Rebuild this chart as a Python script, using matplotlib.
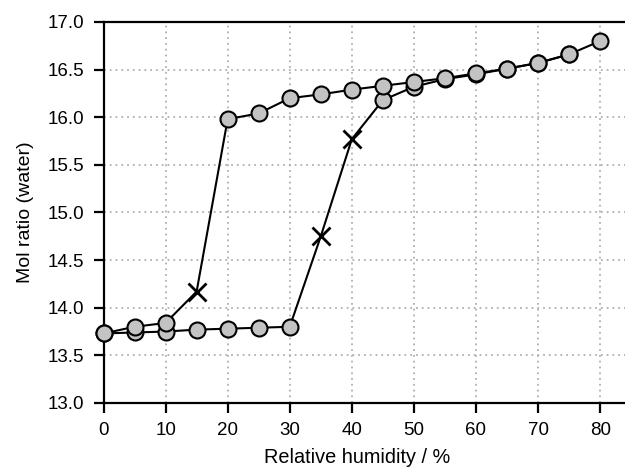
import matplotlib.pyplot as plt

plt.rcParams["font.family"] = ["Liberation Sans", "DejaVu Sans"]

# relative humidity steps (%)
rh = [0, 5, 10, 15, 20, 25, 30, 35, 40, 45, 50, 55, 60, 65, 70, 75, 80]

# adsorption branch (humidity going up)
ads = [13.73, 13.74, 13.75, 13.77, 13.78, 13.79, 13.80, 14.75, 15.77,
       16.18, 16.32, 16.40, 16.45, 16.51, 16.57, 16.66, 16.80]
ads_cross = [35, 40]

# desorption branch (humidity going down)
rh_des = [75, 70, 65, 60, 55, 50, 45, 40, 35, 30, 25, 20, 15, 10, 5, 0]
des = [16.66, 16.57, 16.51, 16.46, 16.41, 16.37, 16.33, 16.29, 16.24,
       16.20, 16.04, 15.98, 14.17, 13.84, 13.80, 13.73]
des_cross = [15]

fig = plt.figure(figsize=(6.25, 4.7), dpi=100)
ax = fig.add_axes([0.1656, 0.1426, 0.8344, 0.8106])

circle_kw = dict(linestyle="none", marker="o", markersize=11.5,
                 markerfacecolor="#c3c3c3", markeredgecolor="black",
                 markeredgewidth=1.5, clip_on=False, zorder=4)
cross_kw = dict(linestyle="none", marker="x", markersize=13,
                markeredgecolor="black", markeredgewidth=2.0,
                clip_on=False, zorder=4)

for xs, ys, crosses in [(rh, ads, ads_cross), (rh_des, des, des_cross)]:
    ax.plot(xs, ys, color="black", linewidth=1.5, zorder=3, clip_on=False)
    cx = [x for x in xs if x not in crosses]
    cy = [y for x, y in zip(xs, ys) if x not in crosses]
    ax.plot(cx, cy, **circle_kw)
    kx = [x for x in xs if x in crosses]
    ky = [y for x, y in zip(xs, ys) if x in crosses]
    ax.plot(kx, ky, **cross_kw)

ax.set_xlim(0, 84)
ax.set_ylim(13.0, 17.0)
ax.set_xticks(range(0, 81, 10))
ax.set_yticks([13.0, 13.5, 14.0, 14.5, 15.0, 15.5, 16.0, 16.5, 17.0])
ax.set_yticklabels([f"{v:.1f}" for v in ax.get_yticks()])

ax.grid(True, linestyle=(0, (1, 2.2)), color="#b0b0b0", linewidth=1.3)
ax.set_axisbelow(True)

ax.spines["right"].set_visible(False)
for s in ["left", "bottom", "top"]:
    ax.spines[s].set_linewidth(1.6)

ax.tick_params(direction="out", length=7, width=1.6, labelsize=13.5,
               pad=7, colors="black")

ax.set_xlabel("Relative humidity / %", fontsize=14.3, labelpad=6)
ax.xaxis.label.set_x(0.486)
ax.set_ylabel("Mol ratio (water)", fontsize=14, labelpad=10)

fig.savefig("out.png", dpi=100)
